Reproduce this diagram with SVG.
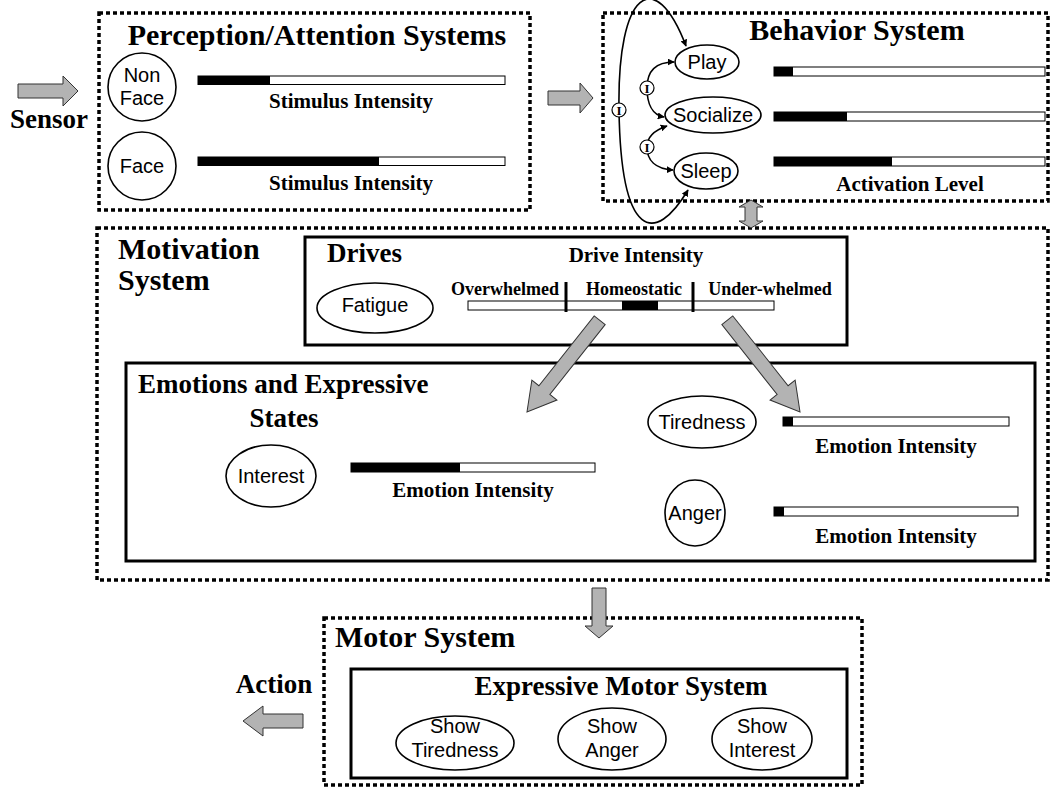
<svg xmlns="http://www.w3.org/2000/svg" width="1053" height="788" viewBox="0 0 1053 788">
  <style>
    .dot { fill: none; stroke: #000; stroke-width: 3.5; stroke-dasharray: 4 3; }
    .solid { fill: none; stroke: #000; stroke-width: 3; }
    .node { fill: #fff; stroke: #000; stroke-width: 1.6; }
    .bar { fill: #fff; stroke: #000; stroke-width: 1; }
    .fillbar { fill: #000; }
    .block { fill: #b3b3b3; stroke: #333; stroke-width: 1; }
    .arc { fill: none; stroke: #000; stroke-width: 1.6; marker-start: url(#tip); marker-end: url(#tip); }
    .inh { fill: #fff; stroke: #000; stroke-width: 1.2; }
    .t30 { font-family: "Liberation Serif", "Times New Roman", serif; font-weight: bold; font-size: 30px; }
    .t27 { font-family: "Liberation Serif", "Times New Roman", serif; font-weight: bold; font-size: 27px; }
    .t21 { font-family: "Liberation Serif", "Times New Roman", serif; font-weight: bold; font-size: 21px; text-anchor: middle; }
    .t18 { font-family: "Liberation Serif", "Times New Roman", serif; font-weight: bold; font-size: 18px; text-anchor: middle; }
    .lbl { font-family: "Liberation Sans", Arial, sans-serif; font-size: 20px; text-anchor: middle; }
    .itext { font-family: "Liberation Serif", "Times New Roman", serif; font-weight: bold; font-size: 13px; text-anchor: middle; }
    .mid { text-anchor: middle; }
  </style>
  <defs>
    <marker id="tip" viewBox="0 0 10 10" refX="9" refY="5" markerWidth="7" markerHeight="7" markerUnits="userSpaceOnUse" orient="auto-start-reverse">
      <path d="M0,0 L10,5 L0,10 z" fill="#000"/>
    </marker>
  </defs>

  <rect width="1053" height="788" fill="#fff"/>

  <!-- Perception / Attention -->
  <g id="perception">
    <rect class="dot" x="99" y="13" width="431" height="197"/>
    <text class="t30 mid" x="317" y="45">Perception/Attention Systems</text>
    <circle class="node" cx="142" cy="87" r="34"/>
    <text class="lbl" x="142" y="82">Non</text>
    <text class="lbl" x="142" y="105">Face</text>
    <rect class="bar" x="198" y="76" width="307" height="8.5"/>
    <rect class="fillbar" x="198" y="76" width="72" height="8.5"/>
    <text class="t21" x="351" y="108">Stimulus Intensity</text>
    <circle class="node" cx="142" cy="166" r="34"/>
    <text class="lbl" x="142" y="173">Face</text>
    <rect class="bar" x="198" y="157" width="307" height="8.5"/>
    <rect class="fillbar" x="198" y="157" width="181" height="8.5"/>
    <text class="t21" x="351" y="190">Stimulus Intensity</text>
  </g>

  <!-- Behavior -->
  <g id="behavior">
    <rect class="dot" x="603" y="13" width="445" height="188"/>
    <text class="t30 mid" x="857" y="40">Behavior System</text>
    <ellipse class="node" cx="707" cy="62" rx="32" ry="17"/>
    <text class="lbl" x="707" y="69">Play</text>
    <ellipse class="node" cx="713" cy="115" rx="48" ry="18"/>
    <text class="lbl" x="713" y="122">Socialize</text>
    <ellipse class="node" cx="706" cy="171" rx="32" ry="18"/>
    <text class="lbl" x="706" y="178">Sleep</text>
    <rect class="bar" x="774" y="67" width="271" height="9"/>
    <rect class="fillbar" x="774" y="67" width="19" height="9"/>
    <rect class="bar" x="774" y="112" width="271" height="9"/>
    <rect class="fillbar" x="774" y="112" width="73" height="9"/>
    <rect class="bar" x="774" y="157" width="271" height="9"/>
    <rect class="fillbar" x="774" y="157" width="118" height="9"/>
    <text class="t21" x="910" y="191">Activation Level</text>
  </g>

  <!-- Motivation -->
  <g id="motivation">
    <rect class="dot" x="97" y="228" width="951" height="352"/>
    <text class="t30" x="118" y="259">Motivation</text>
    <text class="t30" x="118" y="290">System</text>
  </g>

  <g id="drives">
    <rect class="solid" x="305" y="237" width="542" height="108"/>
    <text class="t27" x="327" y="262">Drives</text>
    <text class="t21" x="636" y="262">Drive Intensity</text>
    <ellipse class="node" cx="375" cy="308" rx="58" ry="25"/>
    <text class="lbl" x="375" y="312">Fatigue</text>
    <text class="t18" x="505" y="295">Overwhelmed</text>
    <text class="t18" x="634" y="295">Homeostatic</text>
    <text class="t18" x="770" y="295">Under-whelmed</text>
    <rect class="bar" x="468" y="301" width="306" height="9"/>
    <rect class="fillbar" x="622" y="301" width="36" height="9"/>
    <line x1="566" y1="282" x2="566" y2="312" stroke="#000" stroke-width="3"/>
    <line x1="693" y1="282" x2="693" y2="312" stroke="#000" stroke-width="3"/>
  </g>

  <g id="emotions">
    <rect class="solid" x="126" y="363" width="909" height="198"/>
    <text class="t27" x="138" y="393">Emotions and Expressive</text>
    <text class="t27 mid" x="284" y="427">States</text>
    <ellipse class="node" cx="271" cy="476" rx="45" ry="31"/>
    <text class="lbl" x="271" y="483">Interest</text>
    <rect class="bar" x="351" y="463" width="244" height="9"/>
    <rect class="fillbar" x="351" y="463" width="109" height="9"/>
    <text class="t21" x="473" y="497">Emotion Intensity</text>
    <ellipse class="node" cx="702" cy="422" rx="54" ry="26"/>
    <text class="lbl" x="702" y="429">Tiredness</text>
    <rect class="bar" x="783" y="417" width="226" height="9"/>
    <rect class="fillbar" x="783" y="417" width="10" height="9"/>
    <text class="t21" x="896" y="453">Emotion Intensity</text>
    <ellipse class="node" cx="695" cy="513" rx="30" ry="33"/>
    <text class="lbl" x="695" y="520">Anger</text>
    <rect class="bar" x="774" y="507" width="244" height="9"/>
    <rect class="fillbar" x="774" y="507" width="10" height="9"/>
    <text class="t21" x="896" y="543">Emotion Intensity</text>
  </g>

  <!-- Motor -->
  <g id="motor">
    <rect class="dot" x="324" y="618" width="538" height="167"/>
    <text class="t30" x="335" y="647">Motor System</text>
  </g>

  <g id="expressive-motor">
    <rect class="solid" x="351" y="669" width="496" height="109"/>
    <text class="t27 mid" x="621" y="695">Expressive Motor System</text>
    <ellipse class="node" cx="455" cy="743" rx="59" ry="27"/>
    <text class="lbl" x="455" y="733">Show</text>
    <text class="lbl" x="455" y="757">Tiredness</text>
    <ellipse class="node" cx="612" cy="739" rx="54" ry="31"/>
    <text class="lbl" x="612" y="733">Show</text>
    <text class="lbl" x="612" y="757">Anger</text>
    <ellipse class="node" cx="762" cy="739" rx="50" ry="31"/>
    <text class="lbl" x="762" y="733">Show</text>
    <text class="lbl" x="762" y="757">Interest</text>
  </g>

  <g id="sensor">
    <text class="t27 mid" x="49" y="128">Sensor</text>
  </g>
  <g id="action">
    <text class="t27 mid" x="274" y="693">Action</text>
  </g>

  <!-- Connectors -->
  <g id="connectors">
    <!-- sensor input -->
    <polygon class="block" points="18,84 63,84 63,76 78,91 63,106 63,98 18,98"/>
    <!-- perception to behavior -->
    <polygon class="block" points="548,91 580,91 580,83 593,98 580,113 580,105 548,105"/>
    <!-- behavior <-> motivation -->
    <polygon class="block" points="751,200 763,207 757,207 757,221 763,221 751,228 739,221 745,221 745,207 739,207"/>
    <!-- drives to emotions -->
    <polygon class="block" transform="translate(527,412) rotate(128.4)" points="-117,-7 -28,-7 -28,-16 0,0 -28,16 -28,7 -117,7"/>
    <polygon class="block" transform="translate(800,412) rotate(51.6)" points="-117,-7 -28,-7 -28,-16 0,0 -28,16 -28,7 -117,7"/>
    <!-- motivation to motor -->
    <polygon class="block" points="592,588 606,588 606,626 613,626 599,638 585,626 592,626"/>
    <!-- action output -->
    <polygon class="block" points="303,714 263,714 263,706 243,721 263,736 263,728 303,728"/>

    <!-- mutual inhibition among behaviors -->
    <path class="arc" d="M686,46 C655,-35 617,-10 619,110 C621,240 655,245 688,190"/>
    <path class="arc" d="M674,62 C652,62 647,75 647,88 C647,103 652,115 664,117"/>
    <path class="arc" d="M667,126 C652,131 647,138 647,147 C647,160 655,169 673,170"/>
    <circle class="inh" cx="619" cy="110" r="7"/>
    <text class="itext" x="619" y="115">I</text>
    <circle class="inh" cx="647" cy="88" r="7"/>
    <text class="itext" x="647" y="93">I</text>
    <circle class="inh" cx="647" cy="147" r="7"/>
    <text class="itext" x="647" y="152">I</text>
  </g>
</svg>
